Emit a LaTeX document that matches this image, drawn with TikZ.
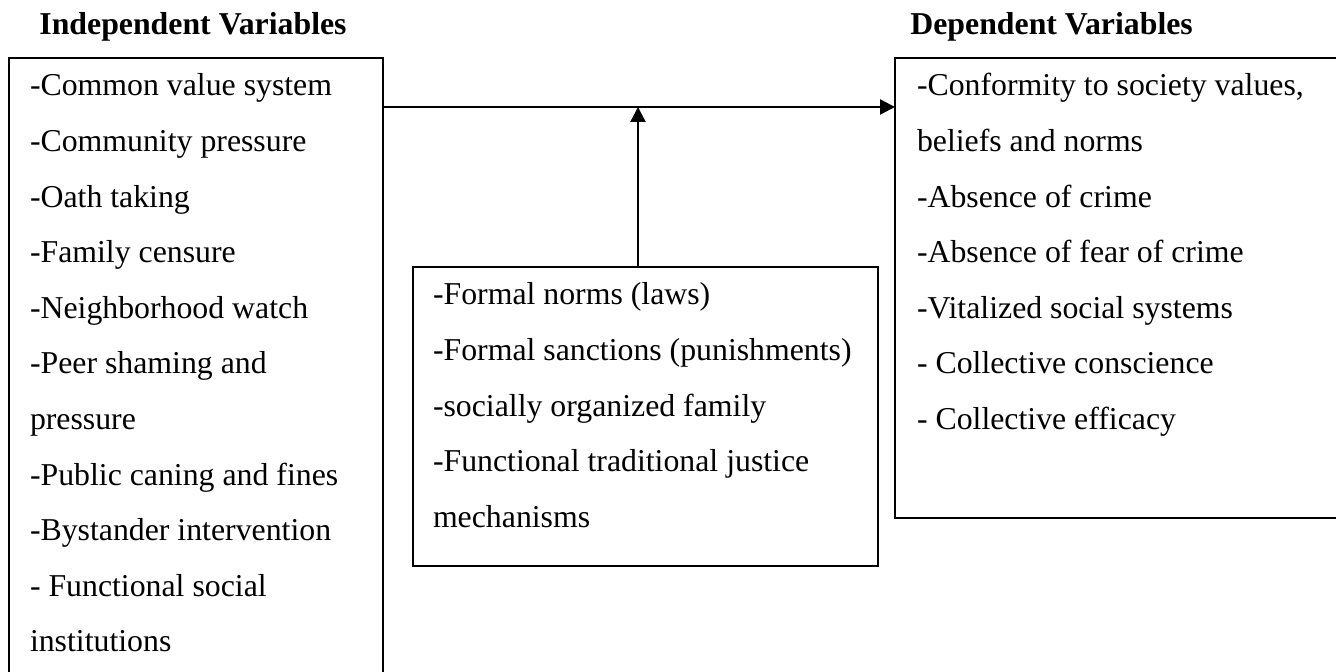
\documentclass[tikz,border=0pt]{standalone}
\usepackage{fontspec}
\setmainfont{Liberation Serif}
\usetikzlibrary{arrows.meta}

% list of items in a box of fixed size, first baseline 19pt below the top
\newcommand{\itemlist}[3]{\parbox[t][#2][t]{#1}{\rule{0pt}{19pt}#3}}

\begin{document}
\begin{tikzpicture}[x=0.5pt, y=-0.5pt,
  varbox/.style = {draw, line width=1.1pt, outer sep=0pt, anchor=north west,
    inner xsep=10.5pt, inner ysep=0pt, font=\fontsize{15.9}{27.8}\selectfont},
  head/.style = {anchor=base west, inner sep=0pt,
    font=\fontsize{15.9}{19}\selectfont\bfseries},
  flow/.style = {line width=1.2pt, -{Triangle[length=7.5pt,width=7.5pt]}}]
  \useasboundingbox (0,0) rectangle (1336,672);
  \clip (0,0) rectangle (1336,672);

  \node[head] (indephead) at (39,35) {Independent Variables};
  \node[head] (dephead) at (910,35) {Dependent Variables};

  \node[varbox] (indep) at (9,58) {\itemlist{166pt}{330pt}{%
    -Common value system\\
    -Community pressure\\
    -Oath taking\\
    -Family censure\\
    -Neighborhood watch\\
    -Peer shaming and\\
    pressure\\
    -Public caning and fines\\
    -Bystander intervention\\
    - Functional social\\
    institutions}};

  \node[varbox, inner xsep=11pt] (dep) at (895,58) {\itemlist{210pt}{230pt}{%
    -Conformity to society values,\\
    beliefs and norms\\
    -Absence of crime\\
    -Absence of fear of crime\\
    -Vitalized social systems\\
    - Collective conscience\\
    - Collective efficacy}};

  \node[varbox, inner xsep=10pt] (mod) at (413,267) {\itemlist{212.5pt}{149.5pt}{%
    -Formal norms (laws)\\
    -Formal sanctions (punishments)\\
    -socially organized family\\
    -Functional traditional justice\\
    mechanisms}};

  \coordinate (joint) at (638,107);
  \draw[flow] (indep.east |- joint) -- (dep.west |- joint);
  \draw[flow] (joint |- mod.north) -- (joint);
\end{tikzpicture}
\end{document}
